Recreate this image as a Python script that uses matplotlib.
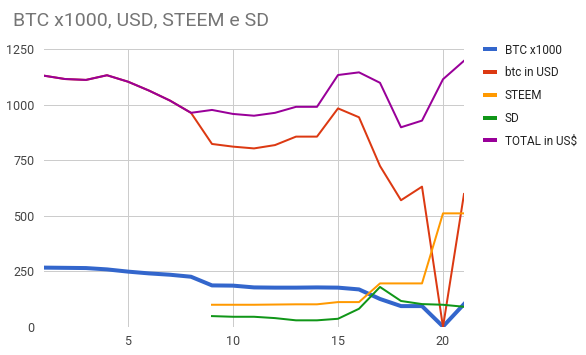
import numpy as np
import matplotlib
matplotlib.use("Agg")
import matplotlib.pyplot as plt

plt.rcParams['font.family'] = ['Roboto', 'DejaVu Sans']

x = list(range(1, 22))
nan = np.nan
btc_x1000 = [267, 266, 265, 259, 249, 241, 235, 226, 187, 186, 178, 177, 177, 178, 177, 169, 126, 94, 94, 2, 103]
btc_usd = [1130, 1115, 1111, 1132, 1103, 1063, 1018, 963, 823, 811, 803, 818, 856, 856, 983, 943, 724, 570, 631, 0, 598]
steem = [nan]*8 + [100, 100, 100, 101, 102, 102, 112, 112, 196, 196, 196, 511, 511]
sd = [nan]*8 + [49, 46, 46, 40, 30, 30, 37, 82, 180, 117, 103, 100, 91]
total = [1130, 1115, 1111, 1132, 1103, 1063, 1018, 963, 976, 958, 950, 963, 990, 990, 1133, 1145, 1098, 898, 928, 1114, 1197]

series = [
    ("BTC x1000", btc_x1000, "#3366cc", 4.0),
    ("btc in USD", btc_usd, "#dc3912", 2.0),
    ("STEEM", steem, "#ff9900", 2.0),
    ("SD", sd, "#109618", 2.0),
    ("TOTAL in US$", total, "#990099", 2.0),
]

W, H = 586, 355
fig = plt.figure(figsize=(W/100, H/100), dpi=100)
left, right, top, bottom = 44, 464, 49, 327
ax = fig.add_axes([left/W, (H-bottom)/H, (right-left)/W, (bottom-top)/H])

px = 72/100
for name, vals, col, lw in series:
    ax.plot(x, vals, color=col, lw=lw*px, label=name, solid_joinstyle='round', zorder=3)

ax.set_xlim(1, 21)
ax.set_ylim(0, 1250)
ax.set_xticks([5, 10, 15, 20])
ax.set_yticks([0, 250, 500, 750, 1000, 1250])
ax.grid(True, color="#cccccc", lw=1*px, zorder=0)
for s in ax.spines.values():
    s.set_visible(False)
ax.axhline(0, color="#333333", lw=1*px, zorder=2)
ax.tick_params(length=0, labelsize=9, colors="#444444", pad=6)
ax.tick_params(axis='y', pad=7)

fig.text(13/W, 1 - 20/H, "BTC x1000, USD, STEEM e SD", fontsize=14, color="#757575", va='center', ha='left')

leg = ax.legend(loc='upper left', bbox_to_anchor=(474/W, 1 - 33/H), bbox_transform=fig.transFigure,
                frameon=False, fontsize=8.5, handlelength=0.85, handletextpad=0.85, labelspacing=0.82,
                labelcolor="#222222")
for h in leg.get_lines():
    h.set_linewidth(4*px)

fig.savefig("out.png", dpi=100)
